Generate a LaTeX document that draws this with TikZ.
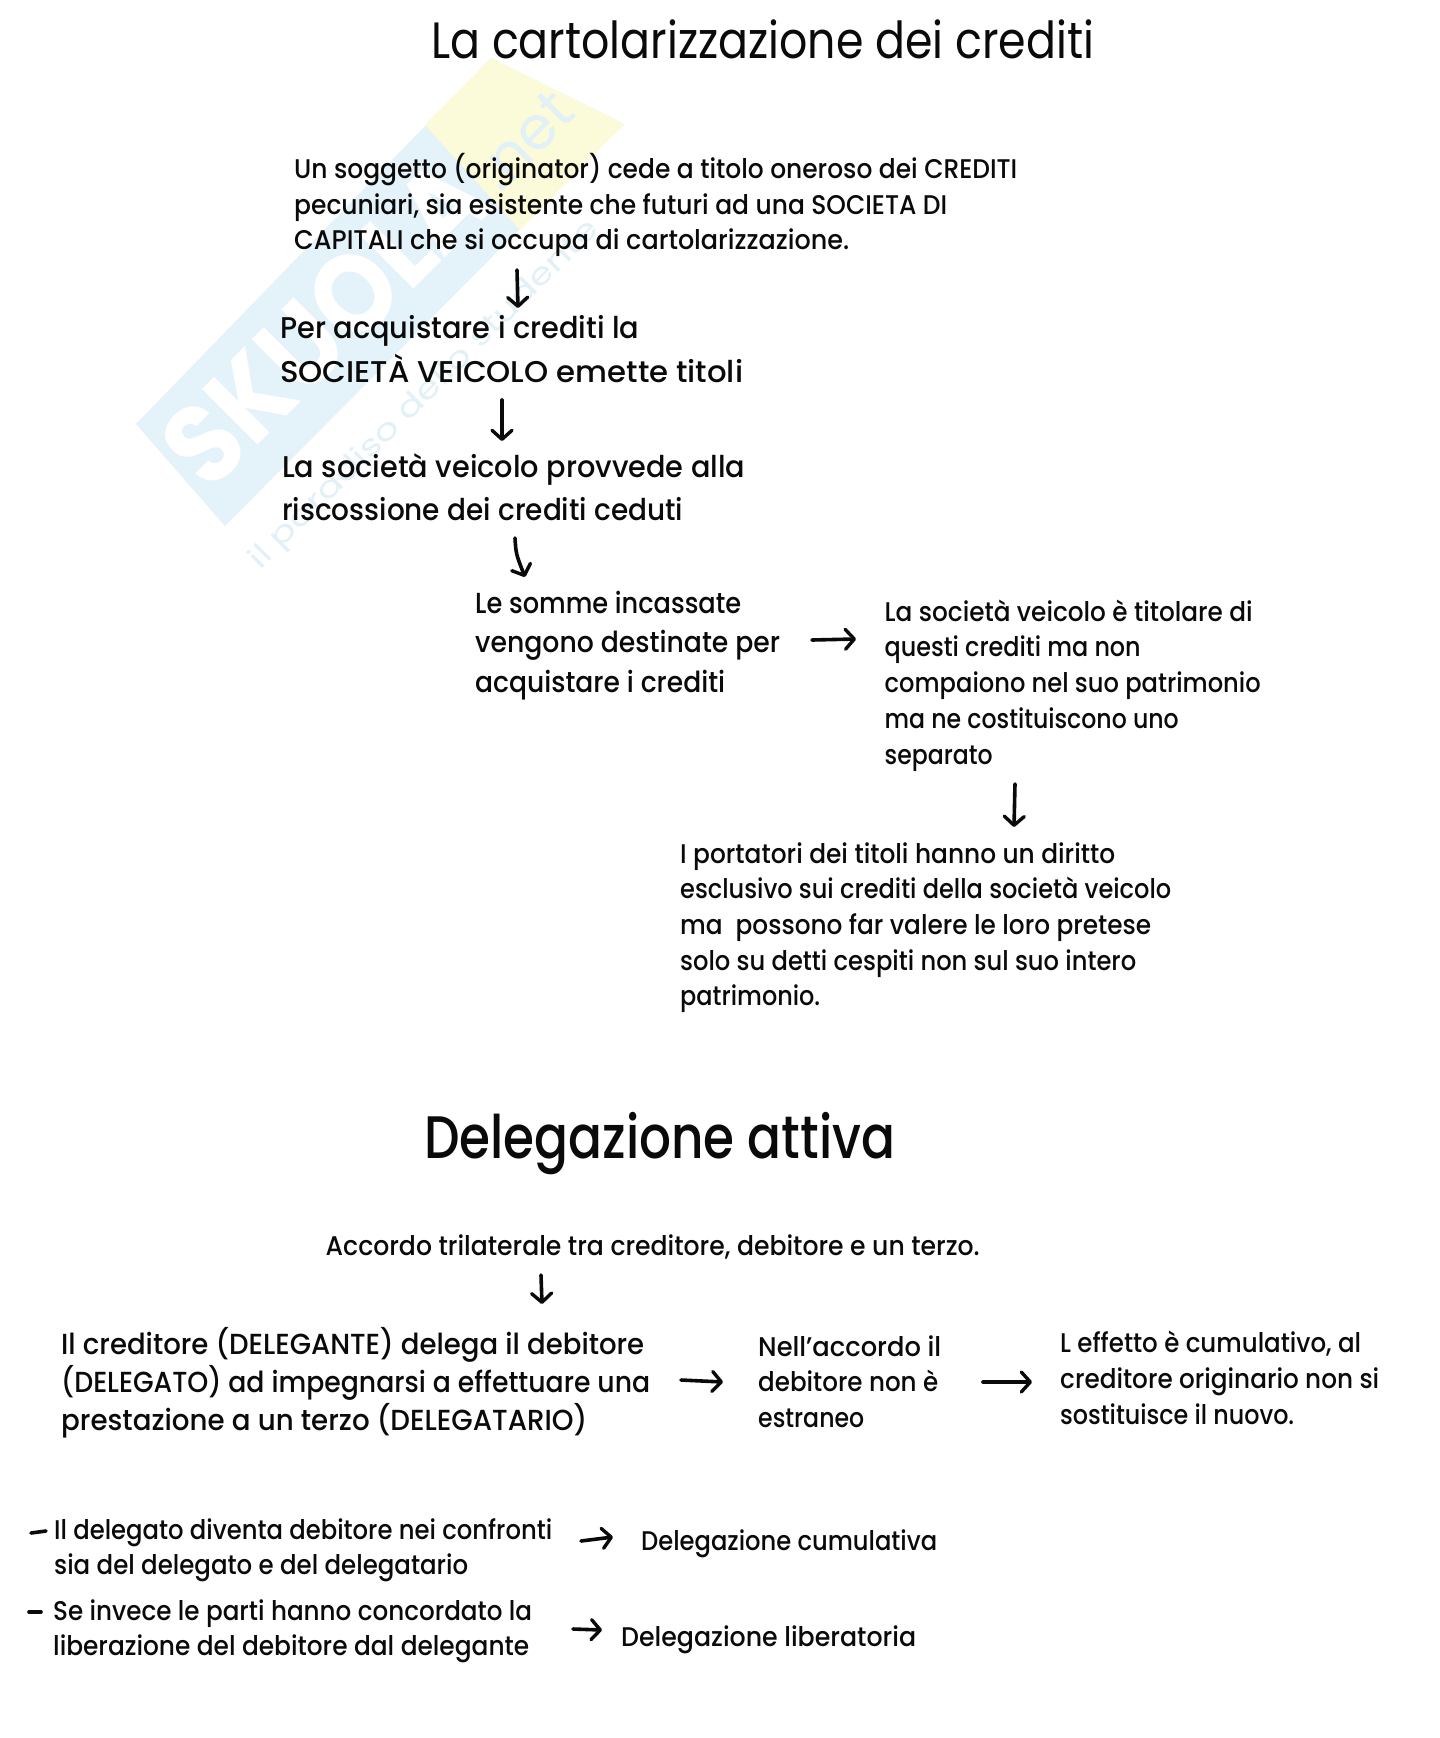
\documentclass[tikz,border=0pt]{standalone}
\usepackage{fontspec}
\usepackage{graphicx}
\setmainfont{Poppins Medium}
\newfontfamily\wmfont{Poppins}
\usetikzlibrary{arrows.meta}
\definecolor{wmblue}{HTML}{E4F2F9}
\definecolor{wmyellow}{HTML}{FCFBD9}
\definecolor{wmtext}{HTML}{E2F0F7}
\definecolor{ink}{HTML}{0A0A0A}
\newcommand{\fl}[2]{\resizebox{#1pt}{\height}{#2}}
\tikzset{
 txt/.style={anchor=north west,align=left,inner sep=0pt,text=ink},
 hand/.style={draw=ink,line width=3.6pt,line cap=round,line join=round,-{Straight Barb[length=9pt,width=20pt,line width=3.4pt,round]}},
 dashmark/.style={draw=ink,line width=3.6pt,line cap=round},
 s32/.style={font=\fontsize{27}{35.7}\selectfont},
 s36/.style={font=\fontsize{30}{43.8}\selectfont},
 s34/.style={font=\fontsize{29}{39.5}\selectfont},
 s33/.style={font=\fontsize{29}{38}\selectfont},
}
\begin{document}
\begin{tikzpicture}[x=1pt,y=-1pt]
\useasboundingbox (0,0) rectangle (1440,1738);
\fill[white] (0,0) rectangle (1440,1738);
% watermark
\fill[wmblue] (136,424) -- (491,58) -- (624,124) -- (225,526) -- cycle;
\fill[wmyellow] (491,58) -- (624,124) -- (520,230) -- (425,125) -- cycle;
\node[rotate=45,text=white,font=\wmfont\bfseries\fontsize{112}{112}\selectfont,inner sep=0pt] (wmname) at (325,322) {\resizebox{405pt}{\height}{SKUOLA}};
\node[rotate=45,text=wmtext,font=\wmfont\fontsize{60}{60}\selectfont,inner sep=0pt] (wmnet) at (525,140) {.net};
\node[rotate=45,text=wmtext,font=\wmfont\fontsize{30}{30}\selectfont,inner sep=0pt] (wmtag) at (425,395) {\resizebox{480pt}{\height}{il paradiso dello studente}};
% titles
\node[txt,anchor=base west,font=\wmfont\fontsize{51}{51}\selectfont] (t1) at (431,58) {\fl{663}{La cartolarizzazione dei crediti}};
\node[txt,anchor=base west,font=\fontsize{60}{60}\selectfont] (t2) at (424,1158) {\fl{471}{Delegazione attiva}};
% blocks
\node[txt,s32] (b1) at (294,153) {\fl{723}{Un soggetto (originator) cede a titolo oneroso dei CREDITI}\\\fl{653}{pecuniari, sia esistente che futuri ad una SOCIETA DI}\\\fl{555}{CAPITALI che si occupa di cartolarizzazione.}};
\node[txt,s36] (b2) at (280,315) {\fl{359}{Per acquistare i crediti la}\\\fl{463}{SOCIETÀ VEICOLO emette titoli}};
\node[txt,s36] (b3) at (282,453) {\fl{463}{La società veicolo provvede alla}\\\fl{401}{riscossione dei crediti ceduti}};
\node[txt,s34] (b4) at (475,590.5) {\fl{266}{Le somme incassate}\\\fl{305}{vengono destinate per}\\\fl{250}{acquistare i crediti}};
\node[txt,s32] (b5) at (884.5,599.5) {\fl{368}{La società veicolo è titolare di}\\\fl{256}{questi crediti ma non}\\\fl{376}{compaiono nel suo patrimonio}\\\fl{294}{ma ne costituiscono uno}\\\fl{108}{separato}};
\node[txt,s32] (b6) at (680,842) {\fl{435}{I portatori dei titoli hanno un diritto}\\\fl{491}{esclusivo sui crediti della società veicolo}\\\fl{471}{ma\ \ possono far valere le loro pretese}\\\fl{456}{solo su detti cespiti non sul suo intero}\\\fl{140}{patrimonio.}};
\node[txt,s32] (b0) at (325.5,1234) {\fl{654}{Accordo trilaterale tra creditore, debitore e un terzo.}};
\node[txt,s33] (b7) at (61,1327) {\fl{583}{Il creditore (DELEGANTE) delega il debitore}\\\fl{589}{(DELEGATO) ad impegnarsi a effettuare una}\\\fl{526}{prestazione a un terzo (DELEGATARIO)}};
\node[txt,s32] (b8) at (758,1335) {\fl{183}{Nell’accordo il}\\\fl{180}{debitore non è}\\\fl{106}{estraneo}};
\node[txt,s32] (b9) at (1060,1331) {\fl{301}{L effetto è cumulativo, al}\\\fl{319}{creditore originario non si}\\\fl{234}{sostituisce il nuovo.}};
\node[txt,s32] (b10) at (54,1518) {\fl{498}{Il delegato diventa debitore nei confronti}\\\fl{414}{sia del delegato e del delegatario}};
\node[txt,s32] (b11) at (53,1599) {\fl{479}{Se invece le parti hanno concordato la}\\\fl{476}{liberazione del debitore dal delegante}};
\node[txt,s32] (b12) at (641,1529) {\fl{296}{Delegazione cumulativa}};
\node[txt,s32] (b13) at (621,1625) {\fl{295}{Delegazione liberatoria}};
% dashes
\coordinate (d1a) at (31,1533); \coordinate (d1b) at (46,1531);
\coordinate (d2a) at (29,1612); \coordinate (d2b) at (41,1612);
\draw[dashmark] (d1a) -- (d1b);
\draw[dashmark] (d2a) -- (d2b);
% arrows
\coordinate (a1a) at (517,270); \coordinate (a1b) at (518,308);
\coordinate (a2a) at (502,400); \coordinate (a2b) at (502,441);
\coordinate (a3a) at (515,538); \coordinate (a3b) at (525,577);
\coordinate (a4a) at (812,640); \coordinate (a4b) at (856,639);
\coordinate (a5a) at (1015,784); \coordinate (a5b) at (1014,827);
\coordinate (a6a) at (541,1275); \coordinate (a6b) at (542,1304);
\coordinate (a7a) at (681,1380); \coordinate (a7b) at (723,1382);
\coordinate (a8a) at (983,1382); \coordinate (a8b) at (1032,1382);
\coordinate (a9a) at (581,1541); \coordinate (a9b) at (613,1537);
\coordinate (a10a) at (573,1629); \coordinate (a10b) at (602,1630);
\draw[hand] (a1a) -- (a1b);
\draw[hand] (a2a) -- (a2b);
\draw[hand] (a3a) .. controls (516,554) .. (a3b);
\draw[hand] (a4a) -- (a4b);
\draw[hand] (a5a) -- (a5b);
\draw[hand] (a6a) -- (a6b);
\draw[hand] (a7a) -- (a7b);
\draw[hand] (a8a) -- (a8b);
\draw[hand] (a9a) -- (a9b);
\draw[hand] (a10a) -- (a10b);
\end{tikzpicture}
\end{document}
